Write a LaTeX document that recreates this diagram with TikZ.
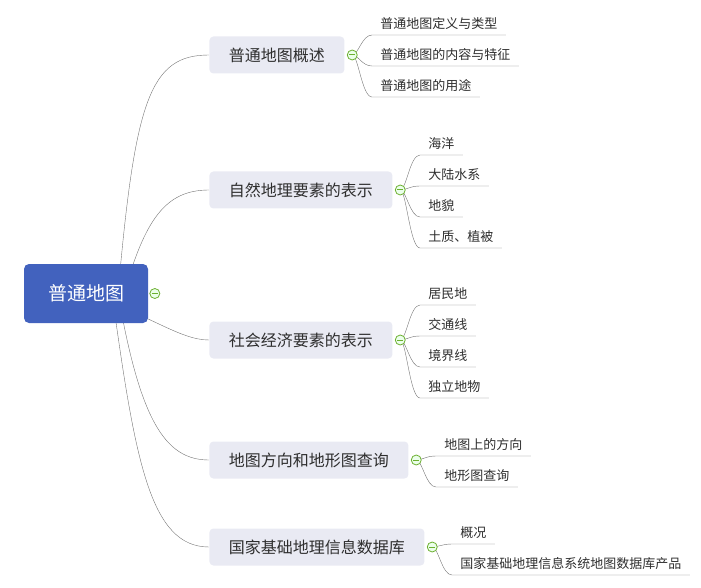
\documentclass[tikz,border=0pt]{standalone}
\usepackage{fontspec}
\setmainfont{Noto Sans CJK SC}
\usepackage{xcolor}
\usepackage{tikz}
\usetikzlibrary{positioning,backgrounds}

\definecolor{rootblue}{HTML}{4262BE}
\definecolor{branchgray}{HTML}{E9EAF3}
\definecolor{textgray}{HTML}{2E2E2E}
\definecolor{linegray}{HTML}{747474}
\definecolor{foldgreen}{HTML}{6CB030}

\begin{document}
\begin{tikzpicture}[x=1pt, y=-1pt, line width=0.85pt,
  rootbox/.style={rectangle, rounded corners=5pt, fill=rootblue, text=white,
    font=\fontsize{19}{19}\selectfont, minimum width=124pt, minimum height=59pt},
  branchbox/.style={rectangle, rounded corners=4pt, fill=branchgray, text=textgray,
    font=\fontsize{16}{16}\selectfont, inner xsep=19.5pt, minimum height=37pt, anchor=west},
  leaftext/.style={anchor=south west, text=textgray, font=\fontsize{13}{13}\selectfont,
    inner xsep=8pt, inner ysep=6pt, text height=10pt, text depth=0pt},
  foldbtn/.style={circle, draw=foldgreen, fill=green!8, inner sep=0pt, minimum size=10pt,
    line width=0.8pt, path picture={\draw[foldgreen, line width=1pt]
      ([xshift=-3pt]path picture bounding box.center) -- ([xshift=3pt]path picture bounding box.center);}},
  link/.style={draw=linegray}]

\useasboundingbox (0,0) rectangle (701,588);

% 
\node[rootbox] (root) at (86,293.5) {普通地图};
\node[foldbtn, right=1pt of root] (f0) {};

% 
\node[branchbox] (b1) at (209,55) {普通地图概述};
\node[branchbox] (b2) at (209,190) {自然地理要素的表示};
\node[branchbox] (b3) at (209,340) {社会经济要素的表示};
\node[branchbox] (b4) at (209,460) {地图方向和地形图查询};
\node[branchbox] (b5) at (209,547) {国家基础地理信息数据库};

\node[foldbtn, right=2pt of b1] (f1) {};
\node[foldbtn, right=2pt of b2] (f2) {};
\node[foldbtn, right=2pt of b3] (f3) {};
\node[foldbtn, right=2pt of b4] (f4) {};
\node[foldbtn, right=2pt of b5] (f5) {};

% 
\node[leaftext] (l11) at (372,35) {普通地图定义与类型};
\node[leaftext] (l12) at (372,66) {普通地图的内容与特征};
\node[leaftext] (l13) at (372,97) {普通地图的用途};

% 
\node[leaftext] (l21) at (420,155) {海洋};
\node[leaftext] (l22) at (420,186) {大陆水系};
\node[leaftext] (l23) at (420,217) {地貌};
\node[leaftext] (l24) at (420,248) {土质、植被};

% 
\node[leaftext] (l31) at (420,305) {居民地};
\node[leaftext] (l32) at (420,336) {交通线};
\node[leaftext] (l33) at (420,367) {境界线};
\node[leaftext] (l34) at (420,398) {独立地物};

% 
\node[leaftext] (l41) at (436,456) {地图上的方向};
\node[leaftext] (l42) at (436,487) {地形图查询};

% 
\node[leaftext] (l51) at (452,544) {概况};
\node[leaftext] (l52) at (452,575) {国家基础地理信息系统地图数据库产品};

% 
\begin{scope}[on background layer]
\draw[link] ([xshift=32pt]root.center) .. controls (135,100) and (150,55) .. (b1.west);
\draw[link] ([xshift=38pt]root.center) .. controls (145,220) and (165,190) .. (b2.west);
\draw[link] (root.center) .. controls (150,315) and (180,340) .. (b3.west);
\draw[link] ([xshift=32pt]root.center) .. controls (140,420) and (165,460) .. (b4.west);
\draw[link] ([xshift=26pt]root.center) .. controls (135,460) and (150,547) .. (b5.west);

\draw[link] (f1.center) .. controls +(6,0) and +(-10,0) .. (l11.south west) -- (l11.south east);
\draw[link] (f1.center) .. controls +(6,0) and +(-10,0) .. (l12.south west) -- (l12.south east);
\draw[link] (f1.center) .. controls +(6,0) and +(-10,0) .. (l13.south west) -- (l13.south east);

\draw[link] (f2.center) .. controls +(6,0) and +(-10,0) .. (l21.south west) -- (l21.south east);
\draw[link] (f2.center) .. controls +(6,0) and +(-10,0) .. (l22.south west) -- (l22.south east);
\draw[link] (f2.center) .. controls +(6,0) and +(-10,0) .. (l23.south west) -- (l23.south east);
\draw[link] (f2.center) .. controls +(6,0) and +(-10,0) .. (l24.south west) -- (l24.south east);

\draw[link] (f3.center) .. controls +(6,0) and +(-10,0) .. (l31.south west) -- (l31.south east);
\draw[link] (f3.center) .. controls +(6,0) and +(-10,0) .. (l32.south west) -- (l32.south east);
\draw[link] (f3.center) .. controls +(6,0) and +(-10,0) .. (l33.south west) -- (l33.south east);
\draw[link] (f3.center) .. controls +(6,0) and +(-10,0) .. (l34.south west) -- (l34.south east);

\draw[link] (f4.center) .. controls +(6,0) and +(-10,0) .. (l41.south west) -- (l41.south east);
\draw[link] (f4.center) .. controls +(6,0) and +(-10,0) .. (l42.south west) -- (l42.south east);

\draw[link] (f5.center) .. controls +(6,0) and +(-10,0) .. (l51.south west) -- (l51.south east);
\draw[link] (f5.center) .. controls +(6,0) and +(-10,0) .. (l52.south west) -- (l52.south east);
\end{scope}

\end{tikzpicture}
\end{document}
